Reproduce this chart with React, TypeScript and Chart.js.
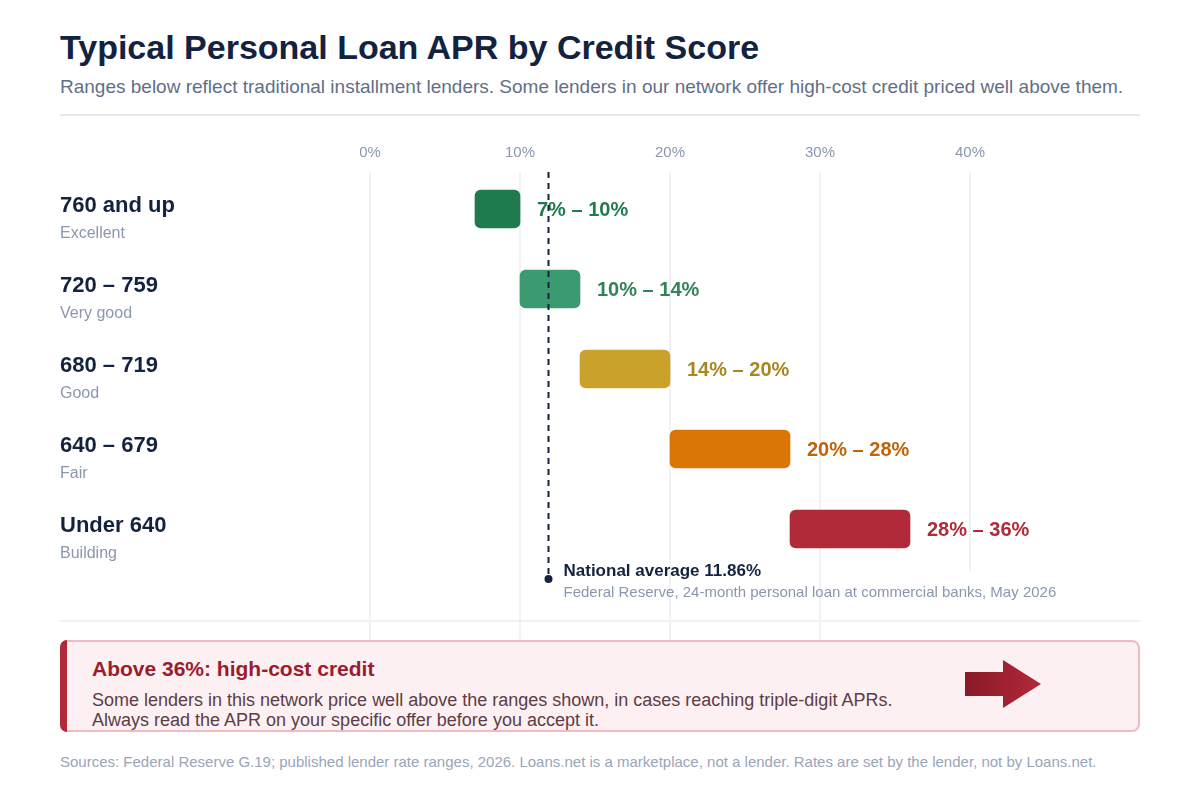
import React, { useEffect, useRef } from "react";
import { Chart, registerables } from "chart.js";

Chart.register(...registerables);

// ---- Data ----
const scoreBands = ["760 and up", "720 – 759", "680 – 719", "640 – 679", "Under 640"];
const tierNames = ["Excellent", "Very good", "Good", "Fair", "Building"];
const aprLow = [7, 10, 14, 20, 28];
const aprHigh = [10, 14, 20, 28, 36];
const rangeLabels = ["7% – 10%", "10% – 14%", "14% – 20%", "20% – 28%", "28% – 36%"];
const xTickValues = [0, 10, 20, 30, 40];
const nationalAverage = 11.86;
const nationalAverageLabel = "National average 11.86%";
const nationalAverageSource = "Federal Reserve, 24-month personal loan at commercial banks, May 2026";

// ---- Styles ----
const barColors = ["#1f7b4e", "#3b9a6f", "#caa22b", "#d97606", "#b12a39"];
const labelColors = ["#1f7b4e", "#2f8357", "#a8871f", "#c2630a", "#b12a39"];
const FONT = "'Liberation Sans', Arial, Helvetica, sans-serif";
const NAVY = "#13233f";
const MUTED = "#8a97ad";

const overlayPlugin = {
  id: "overlay",
  beforeDatasetsDraw(chart: any) {
    // the 40% gridline stops above the annotation in the reference
    const { ctx, scales, chartArea } = chart;
    const gx = scales.x.getPixelForValue(40);
    const endY = scales.y.getPixelForValue(scoreBands.length - 1) + 42;
    ctx.save();
    ctx.fillStyle = "#ffffff";
    ctx.fillRect(gx - 2, endY, 4, chartArea.bottom - endY);
    ctx.restore();
  },
  afterDatasetsDraw(chart: any) {
    const { ctx, scales, chartArea } = chart;
    const x = scales.x;
    const y = scales.y;
    ctx.save();
    ctx.textBaseline = "middle";
    ctx.textAlign = "left";
    scoreBands.forEach((band, i) => {
      const py = y.getPixelForValue(i);
      ctx.fillStyle = NAVY;
      ctx.font = `bold 22px ${FONT}`;
      ctx.fillText(band, 60, py - 3);
      ctx.fillStyle = MUTED;
      ctx.font = `16px ${FONT}`;
      ctx.fillText(tierNames[i], 60, py + 25);
      ctx.fillStyle = labelColors[i];
      ctx.font = `bold 20px ${FONT}`;
      ctx.fillText(rangeLabels[i], x.getPixelForValue(aprHigh[i]) + 17, py + 1);
    });

    // national average marker
    const ax = Math.round(x.getPixelForValue(nationalAverage)) + 0.5;
    const endY = y.getPixelForValue(scoreBands.length - 1) + 50;
    ctx.strokeStyle = NAVY;
    ctx.lineWidth = 2;
    ctx.setLineDash([6, 5]);
    ctx.beginPath();
    ctx.moveTo(ax, chartArea.top);
    ctx.lineTo(ax, endY);
    ctx.stroke();
    ctx.setLineDash([]);
    ctx.fillStyle = NAVY;
    ctx.beginPath();
    ctx.arc(ax, endY, 4, 0, Math.PI * 2);
    ctx.fill();

    ctx.fillStyle = NAVY;
    ctx.font = `bold 17px ${FONT}`;
    ctx.fillText(nationalAverageLabel, ax + 15, endY - 8);
    ctx.fillStyle = MUTED;
    ctx.font = `15px ${FONT}`;
    ctx.fillText(nationalAverageSource, ax + 15, endY + 14);
    ctx.restore();
  },
};

function RangeChart() {
  const ref = useRef<HTMLCanvasElement | null>(null);
  useEffect(() => {
    if (!ref.current) return;
    const chart = new Chart(ref.current, {
      type: "bar",
      data: {
        datasets: [
          {
            data: aprLow.map((lo, i) => ({ x: [lo, aprHigh[i]], y: i })) as any,
            backgroundColor: barColors,
            borderRadius: 6,
            borderSkipped: false,
            barThickness: 38,
          },
        ],
      },
      options: {
        indexAxis: "y",
        responsive: false,
        animation: false,
        events: [],
        layout: { padding: { left: 370, right: 80, top: 4, bottom: 0 } },
        plugins: { legend: { display: false }, tooltip: { enabled: false } },
        scales: {
          x: {
            type: "linear",
            position: "top",
            min: 0,
            max: 50,
            afterBuildTicks: (scale: any) => {
              scale.ticks = xTickValues.map((v) => ({ value: v }));
            },
            ticks: {
              callback: (v: any) => `${v}%`,
              color: MUTED,
              font: { size: 15, family: FONT },
              padding: 10,
            },
            grid: { color: "#f0f2f6", lineWidth: 2, drawTicks: false },
            border: { display: false },
          },
          y: {
            type: "linear",
            reverse: true,
            offset: false,
            min: -0.4625,
            max: 5.3875,
            display: false,
            grid: { offset: false },
          },
        },
      },
      plugins: [overlayPlugin],
    });
    return () => chart.destroy();
  }, []);
  return (
    <canvas
      ref={ref}
      width={1200}
      height={510}
      style={{ position: "absolute", left: 0, top: 130, width: 1200, height: 510 }}
    />
  );
}

export default function App() {
  const abs = (o: any): React.CSSProperties => ({ position: "absolute", margin: 0, whiteSpace: "nowrap", ...o });
  return (
    <div style={{ position: "absolute", left: 0, top: 0, width: 1200, height: 800, background: "#fff", fontFamily: FONT, overflow: "hidden" }}>
      <div style={abs({ left: 60, top: 27, lineHeight: "40px", fontSize: 34, fontWeight: 700, color: NAVY })}>
        Typical Personal Loan APR by Credit Score
      </div>
      <div style={abs({ left: 60, top: 75, lineHeight: "24px", fontSize: 19, color: "#5f6f87" })}>
        Ranges below reflect traditional installment lenders. Some lenders in our network offer high-cost credit priced well above them.
      </div>
      <div style={abs({ left: 60, top: 114, width: 1080, height: 2, background: "#e5e9f0" })} />
      <RangeChart />
      <div style={abs({ left: 60, top: 620, width: 1080, height: 2, background: "#eef1f5" })} />
      <div
        style={abs({
          left: 60,
          top: 640,
          width: 1080,
          height: 92,
          boxSizing: "border-box",
          border: "2px solid #efbac1",
          borderRadius: 8,
          background: "#fcf0f2",
        })}
      >
        <div style={abs({ left: -2, top: -2, bottom: -2, width: 7, background: "#b12a39", borderRadius: "8px 0 0 8px" })} />
        <div style={abs({ left: 30, top: 14, lineHeight: "26px", fontSize: 21, fontWeight: 700, color: "#9b1c2c" })}>
          Above 36%: high-cost credit
        </div>
        <div style={abs({ left: 30, top: 48, lineHeight: "20px", fontSize: 18, color: "#5c3d45" })}>
          Some lenders in this network price well above the ranges shown, in cases reaching triple-digit APRs.
          <br />
          Always read the APR on your specific offer before you accept it.
        </div>
        <svg style={{ position: "absolute", left: 903, top: 18 }} width={78} height={50} viewBox="0 0 78 50">
          <defs>
            <linearGradient id="arrowGrad" x1="0" y1="0" x2="1" y2="0">
              <stop offset="0" stopColor="#8a1a26" />
              <stop offset="1" stopColor="#b3283a" />
            </linearGradient>
          </defs>
          <polygon points="0,12 38,12 38,0 76,24 38,48 38,36 0,36" fill="url(#arrowGrad)" />
        </svg>
      </div>
      <div style={abs({ left: 60, top: 751, lineHeight: "22px", fontSize: 15, color: "#9aa5b8" })}>
        Sources: Federal Reserve G.19; published lender rate ranges, 2026. Loans.net is a marketplace, not a lender. Rates are set by the lender, not by Loans.net.
      </div>
    </div>
  );
}
